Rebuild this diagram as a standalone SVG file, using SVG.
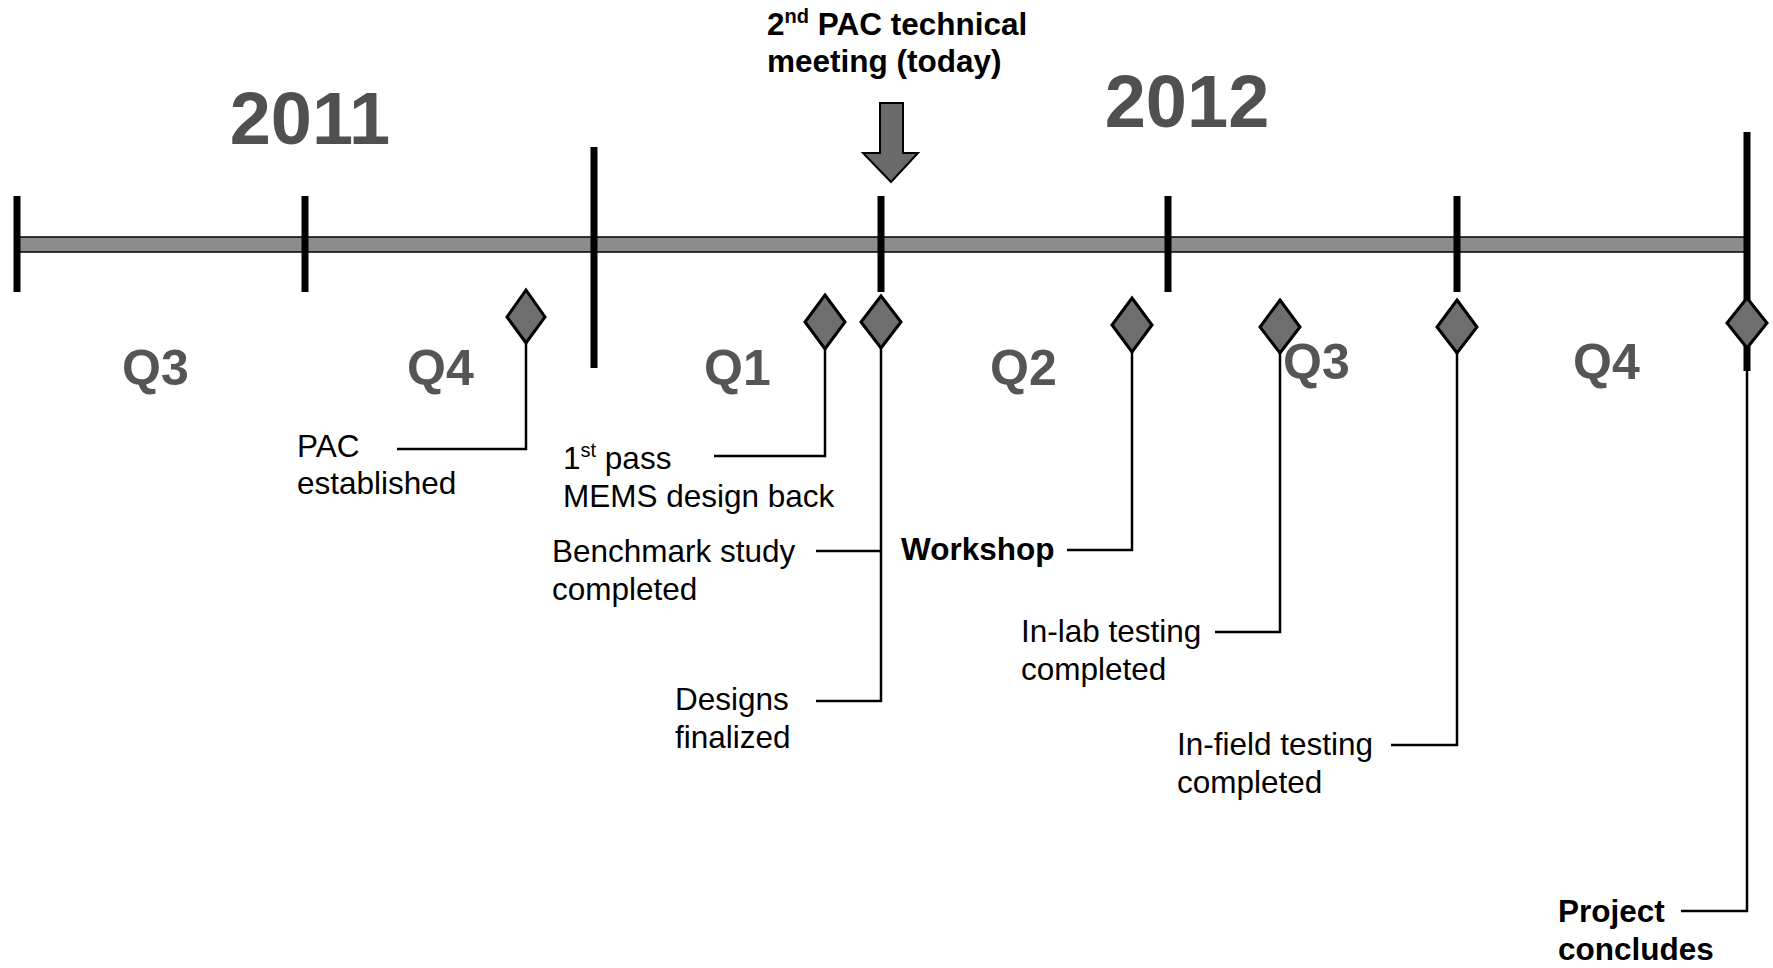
<svg xmlns="http://www.w3.org/2000/svg" width="1773" height="968" viewBox="0 0 1773 968">
<style>
.lbl{font-family:"Liberation Sans",Arial,sans-serif;font-size:31.5px;fill:#000}
.bld{font-family:"Liberation Sans",Arial,sans-serif;font-size:31.5px;font-weight:bold;fill:#000}
.q{font-family:"Liberation Sans",Arial,sans-serif;font-size:50px;font-weight:bold;fill:#555}
.yr{font-family:"Liberation Sans",Arial,sans-serif;font-size:74px;font-weight:bold;fill:#505050;text-anchor:middle}
.tick{stroke:#000;stroke-width:7;fill:none}
.lead{stroke:#000;stroke-width:2.5;fill:none}
.dia{fill:#6e6e6e;stroke:#000;stroke-width:3;stroke-linejoin:miter}
</style>
<rect width="1773" height="968" fill="#fff"/>
<g id="timeline">
<rect x="17" y="237" width="1730" height="15" fill="#8c8c8c" stroke="#000" stroke-width="1.5"/>
<line class="tick" x1="17" y1="196" x2="17" y2="292"/>
<line class="tick" x1="305" y1="196" x2="305" y2="292"/>
<line class="tick" x1="594" y1="147" x2="594" y2="368"/>
<line class="tick" x1="881" y1="196" x2="881" y2="292"/>
<line class="tick" x1="1168" y1="196" x2="1168" y2="292"/>
<line class="tick" x1="1457" y1="196" x2="1457" y2="292"/>
<line class="tick" x1="1747" y1="132" x2="1747" y2="371"/>
</g>
<g id="years">
<text class="yr" x="310" y="144">2011</text>
<text class="yr" x="1187" y="127">2012</text>
</g>
<g id="quarters">
<text class="q" x="122" y="385">Q3</text>
<text class="q" x="407" y="385">Q4</text>
<text class="q" x="704" y="385">Q1</text>
<text class="q" x="990" y="385">Q2</text>
<text class="q" x="1283" y="379">Q3</text>
<text class="q" x="1573" y="379">Q4</text>
</g>
<g id="today">
<text class="bld" x="767" y="35">2<tspan font-size="20" dy="-12">nd</tspan><tspan dy="12"> PAC technical</tspan></text>
<text class="bld" x="767" y="72">meeting (today)</text>
<polygon points="880,103 903,103 903,153 918,153 891,182 863,153 880,153" fill="#6a6a6a" stroke="#000" stroke-width="2"/>
</g>
<g id="connectors">
<polyline class="lead" points="526,343 526,449 397,449"/>
<polyline class="lead" points="825,348 825,456 714,456"/>
<polyline class="lead" points="881,348 881,701 816,701"/>
<line class="lead" x1="816" y1="551" x2="881" y2="551"/>
<polyline class="lead" points="1132,352 1132,550 1067,550"/>
<polyline class="lead" points="1280,353 1280,632 1215,632"/>
<polyline class="lead" points="1457,353 1457,745 1391,745"/>
<polyline class="lead" points="1747,371 1747,911 1681,911"/>
</g>
<g id="pac-established">
<polygon class="dia" points="526,290 545,317 526,343 507,317"/>
<text class="lbl" x="297" y="457">PAC</text>
<text class="lbl" x="297" y="494">established</text>
</g>
<g id="first-pass">
<polygon class="dia" points="825,295 845,322 825,349 805,322"/>
<text class="lbl" x="563" y="469">1<tspan font-size="20" dy="-12">st</tspan><tspan dy="12"> pass</tspan></text>
<text class="lbl" x="563" y="507">MEMS design back</text>
</g>
<g id="benchmark">
<polygon class="dia" points="881,296 901,322 881,348 861,322"/>
<text class="lbl" x="552" y="562">Benchmark study</text>
<text class="lbl" x="552" y="600">completed</text>
</g>
<g id="designs">
<text class="lbl" x="675" y="710">Designs</text>
<text class="lbl" x="675" y="748">finalized</text>
</g>
<g id="workshop">
<polygon class="dia" points="1132,298 1152,325 1132,352 1112,325"/>
<text class="bld" x="901" y="560">Workshop</text>
</g>
<g id="in-lab">
<polygon class="dia" points="1280,300 1300,327 1280,353 1260,327"/>
<text class="lbl" x="1021" y="642">In-lab testing</text>
<text class="lbl" x="1021" y="680">completed</text>
</g>
<g id="in-field">
<polygon class="dia" points="1457,300 1477,327 1457,353 1437,327"/>
<text class="lbl" x="1177" y="755">In-field testing</text>
<text class="lbl" x="1177" y="793">completed</text>
</g>
<g id="project-concludes">
<polygon class="dia" points="1747,298 1767,323 1747,348 1727,323"/>
<text class="bld" x="1558" y="922">Project</text>
<text class="bld" x="1558" y="960">concludes</text>
</g>
</svg>
